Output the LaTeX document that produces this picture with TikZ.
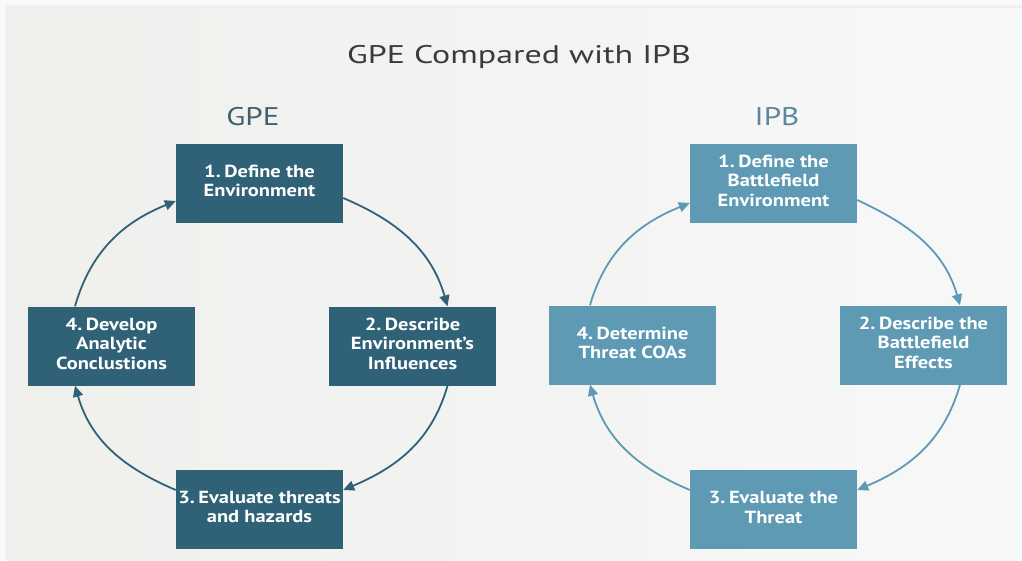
\documentclass[tikz,border=0pt]{standalone}
\usepackage{fontspec}
\usepackage{graphicx}
\setmainfont{PT Sans}
\usetikzlibrary{arrows.meta}
\definecolor{gpeblue}{HTML}{2F6277}
\definecolor{ipbblue}{HTML}{5E9AB4}
\definecolor{gpelabel}{HTML}{41606F}
\definecolor{ipblabel}{HTML}{5B889C}
\definecolor{titlegray}{HTML}{3A3B3C}
\definecolor{cardleft}{HTML}{EFEFEC}
\definecolor{cardright}{HTML}{F7F8F8}
% horizontally widened, centred block of lines
\newcommand\widelines[2]{\raisebox{-1.5pt}{\scalebox{#1}[1]{\begin{tabular}{@{}c@{}}#2\end{tabular}}}}
\begin{document}
\begin{tikzpicture}[x=1pt,y=1pt,
  stepbox/.style={minimum width=167pt, minimum height=79pt, inner sep=0pt,
    text=white, font=\bfseries\fontsize{17.5}{19.5}\selectfont},
  gbox/.style={stepbox, fill=gpeblue},
  ibox/.style={stepbox, fill=ipbblue},
  cyc/.style={line width=1.8pt, -{Triangle[length=11pt,width=10pt]}},
  head/.style={anchor=base, font=\fontsize{25.5}{30}\selectfont},
]
% page, soft shadow and card
\fill[white!98!black] (0,0) rectangle (1022,-560);
\fill[black!5] (5,-5) rectangle (1022,-560);
\fill[black!8] (7,-7) rectangle (1022,-560);
\shade[left color=cardleft, right color=cardright] (8,-8) rectangle (1022,-560);
\useasboundingbox (0,0) rectangle (1022,-560);

% title and column headings
\node[anchor=base, text=titlegray, font=\fontsize{25.5}{30}\selectfont] (title) at (519,-63) {\scalebox{1.33}[1]{GPE Compared with IPB}};
\node[head, text=gpelabel] (gpe) at (253,-125) {\scalebox{1.22}[1]{GPE}};
\node[head, text=ipblabel] (ipb) at (777,-125) {\scalebox{1.22}[1]{IPB}};

% GPE cycle
\node[gbox] (g1) at (259.5,-183) {\widelines{1.17}{1.\kern3pt Define the\\Environment}};
\node[gbox] (g2) at (412.5,-346) {\widelines{1.17}{2.\kern3pt Describe\\Environment’s\\Influences}};
\node[gbox] (g3) at (259.5,-509) {\widelines{1.17}{3.\kern3pt Evaluate threats\\and hazards}};
\node[gbox] (g4) at (111.5,-346) {\widelines{1.17}{4.\kern3pt Develop\\Analytic\\Conclustions}};

\begin{scope}[draw=gpeblue, color=gpeblue]
\draw[cyc] ([yshift=-15pt]g1.east) to[out=-23, in=106] ([xshift=35pt]g2.north);
\draw[cyc] ([xshift=35pt]g2.south) to[out=-106, in=23] ([yshift=19pt]g3.east);
\draw[cyc] ([yshift=19pt]g3.west) to[out=157, in=-74] ([xshift=-36.5pt]g4.south);
\draw[cyc] ([xshift=-36.5pt]g4.north) to[out=74, in=202] ([yshift=-18pt]g1.west);
\end{scope}

% IPB cycle
\node[ibox] (i1) at (773.5,-183) {\widelines{1.17}{1.\kern3pt Define the\\Battlefield\\Environment}};
\node[ibox] (i2) at (923.5,-345) {\widelines{1.17}{2.\kern3pt Describe the\\Battlefield\\Effects}};
\node[ibox] (i3) at (773.5,-509.5) {\widelines{1.17}{3.\kern3pt Evaluate the\\Threat}};
\node[ibox] (i4) at (632.5,-345) {\widelines{1.17}{4.\kern3pt Determine\\Threat COAs}};

\begin{scope}[draw=ipbblue, color=ipbblue]
\draw[cyc] ([yshift=-17pt]i1.east) to[out=-25, in=106] ([xshift=36.5pt]i2.north);
\draw[cyc] ([xshift=36.5pt]i2.south) to[out=-106, in=23] ([yshift=19.5pt]i3.east);
\draw[cyc] ([yshift=19.5pt]i3.west) to[out=157, in=-74] ([xshift=-42.5pt]i4.south);
\draw[cyc] ([xshift=-42.5pt]i4.north) to[out=74, in=202] ([yshift=-20pt]i1.west);
\end{scope}
\end{tikzpicture}
\end{document}
